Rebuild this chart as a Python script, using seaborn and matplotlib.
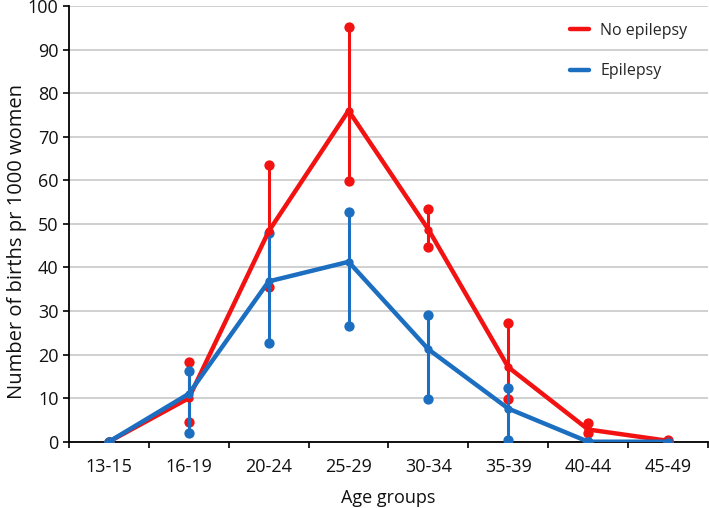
import matplotlib
matplotlib.use("Agg")
import matplotlib.pyplot as plt
import seaborn as sns
import pandas as pd
import numpy as np

age_groups = ["13-15", "16-19", "20-24", "25-29", "30-34", "35-39", "40-44", "45-49"]

no_epi = [0.0, 10.0, 48.3, 76.0, 48.7, 17.1, 2.8, 0.2]
no_epi_low = [0.0, 4.5, 35.5, 59.8, 44.8, 9.9, 1.9, 0.0]
no_epi_high = [0.0, 18.3, 63.5, 95.2, 53.4, 27.2, 4.3, 0.3]

epi = [0.0, 11.0, 36.8, 41.3, 21.2, 7.6, 0.0, 0.0]
epi_low = [0.0, 1.9, 22.6, 26.5, 9.8, 0.4, 0.0, 0.0]
epi_high = [0.0, 16.2, 47.8, 52.8, 29.1, 12.3, 0.0, 0.0]

series_names = ["No epilepsy", "Epilepsy"]
colors = {"No epilepsy": "#F21212", "Epilepsy": "#1B6EC0"}

df = pd.DataFrame({
    "age": age_groups * 2,
    "value": no_epi + epi,
    "low": no_epi_low + epi_low,
    "high": no_epi_high + epi_high,
    "group": [series_names[0]] * len(age_groups) + [series_names[1]] * len(age_groups),
})
df["age"] = pd.Categorical(df["age"], categories=age_groups, ordered=True)

sns.set_theme(style="white")
plt.rcParams["font.family"] = ["Open Sans", "DejaVu Sans"]

fig = plt.figure(figsize=(7.09, 5.08), dpi=100)
ax = fig.add_axes([0.0973, 0.1305, 0.9013, 0.8575])

for name in series_names:
    sub = df[df["group"] == name]
    xs = np.arange(len(sub))
    c = colors[name]
    ax.vlines(xs, sub["low"], sub["high"], color=c, lw=2.2, zorder=3)
    ax.scatter(np.concatenate([xs, xs]), np.concatenate([sub["low"], sub["high"]]),
               s=55, color=c, zorder=3, linewidths=0)
    sns.lineplot(x=xs, y=sub["value"].values, color=c, lw=3.2, ax=ax,
                 marker="o", markersize=6, markeredgewidth=0, label=name, zorder=4,
                 errorbar=None)

ax.set_xlim(-0.5, len(age_groups) - 0.5)
ax.set_ylim(0, 100)
ax.set_yticks(range(0, 101, 10))
ax.set_xticks(np.arange(len(age_groups)))
ax.set_xticklabels(age_groups)
ax.set_xticks(np.arange(-0.5, len(age_groups), 1), minor=True)
ax.tick_params(axis="x", which="major", length=0, labelsize=13, pad=12)
ax.tick_params(axis="x", which="minor", length=4.5, width=1.2, color="black", direction="out", bottom=True)
ax.tick_params(axis="y", length=4.5, width=1.2, color="black", direction="out", left=True,
               labelsize=13, pad=3)
for lbl in ax.get_yticklabels() + ax.get_xticklabels():
    lbl.set_color("#111111")

ax.yaxis.grid(True, color="#C8C8C8", lw=1.2)
ax.set_axisbelow(True)
for s in ["top", "right"]:
    ax.spines[s].set_visible(False)
for s in ["left", "bottom"]:
    ax.spines[s].set_color("black")
    ax.spines[s].set_linewidth(1.3)

ax.set_xlabel("Age groups", fontsize=13, labelpad=9, color="#111111")
ax.set_ylabel("Number of births pr 1000 women", fontsize=14.5, color="#111111")
ax.yaxis.set_label_coords(-0.066, 0.46)

leg = ax.legend(loc="upper right", bbox_to_anchor=(0.99, 0.995), frameon=False,
                fontsize=11.5, labelspacing=1.55, handlelength=1.2, handletextpad=0.7)
for h in leg.get_lines():
    h.set_marker("")
    h.set_linewidth(3.2)

fig.savefig("out.png", dpi=100)
